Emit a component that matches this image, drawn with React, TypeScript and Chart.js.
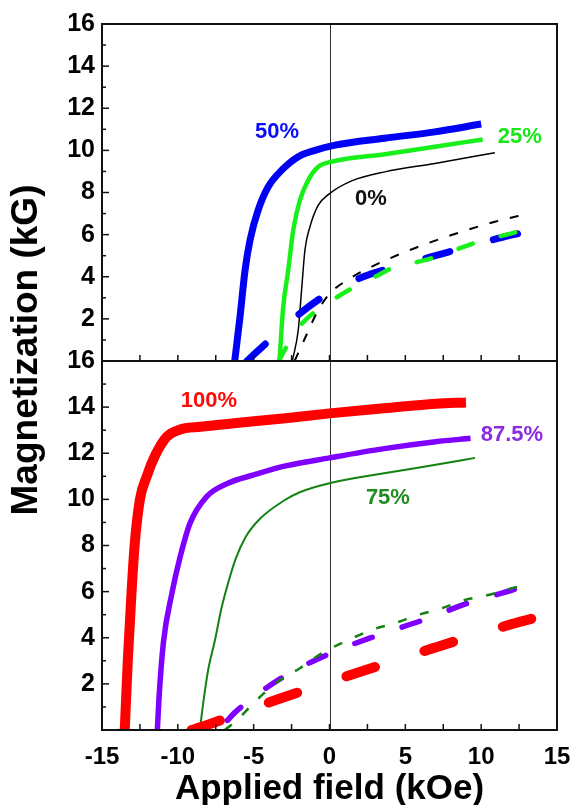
import React, { useEffect, useRef } from 'react';
import { Chart, registerables } from 'chart.js';

Chart.register(...registerables);

// ---------- data: applied field (kOe) and magnetization (kG) ----------
// top panel
const field0 = [-2.45, -2.06, -1.84, -1.62, -1.29, -0.74, -0.08, 1.46, 3.65, 6.95, 10.9];
const mag0 = [0, 1.47, 3.37, 5.27, 6.37, 7.4, 7.9, 8.55, 8.98, 9.38, 9.89];
const field25 = [-3.3, -3.05, -2.72, -2.39, -1.95, -1.4, -0.74, 0.14, 3.65, 6.95, 10.1];
const mag25 = [0, 2.58, 4.32, 6.22, 7.64, 8.59, 9.22, 9.46, 9.82, 10.17, 10.52];
const field50 = [-6.25, -5.9, -5.57, -5.24, -4.7, -4.04, -3.15, -2.06, -0.96, 0.36, 3.65, 6.95, 10.0];
const mag50 = [0, 2.1, 4.3, 5.74, 7.17, 8.27, 9.06, 9.7, 10.0, 10.25, 10.58, 10.88, 11.25];
const fieldD0 = [-2.3, -1.62, -0.74, 0.03, 1.35, 2.56, 5.3, 8.05, 10.9, 13.1];
const magD0 = [0, 1.08, 2.42, 3.21, 3.92, 4.4, 5.27, 5.98, 6.61, 7.0];
const fieldD25 = [-3.35, -2.17, -0.96, 0.36, 1.68, 3.0, 4.31, 5.5, 7.06, 8.27, 9.8, 11.1, 12.4, 13.4];
const magD25 = [0, 1.47, 2.34, 2.97, 3.53, 4.0, 4.47, 4.65, 4.95, 5.27, 5.66, 5.9, 6.14, 6.37];
const fieldD50 = [-5.45, -3.81, -1.95, -0.08, 2.23, 4.31, 6.73, 8.71, 11.1, 13.0];
const magD50 = [0, 1.08, 2.26, 3.21, 4.0, 4.47, 4.95, 5.35, 5.82, 6.14];

// bottom panel
const field75 = [-8.55, -8.3, -8.0, -7.55, -7.15, -6.8, -6.2, -5.5, -4.6, -3.0, -2.0, 0, 3.6, 7.0, 9.6];
const mag75 = [0, 1.3, 2.6, 3.9, 5.2, 6.1, 7.4, 8.4, 9.15, 9.95, 10.3, 10.7, 11.13, 11.5, 11.8];
const field87 = [-11.35, -11.25, -10.95, -10.4, -9.85, -9.2, -8.1, -6.7, -5.0, -2.9, 0, 3.6, 7.0, 9.3];
const mag87 = [0, 1.3, 3.8, 5.9, 7.5, 8.96, 10.12, 10.7, 11.06, 11.45, 11.8, 12.2, 12.5, 12.65];
const field100 = [-13.5, -13.3, -13.05, -12.85, -12.5, -12.05, -11.5, -10.75, -9.9, -8.5, -6.3, -2.9, 0, 3.6, 7.0, 9.0];
const mag100 = [0, 3.0, 6.0, 8.0, 10.0, 11.0, 11.9, 12.7, 13.02, 13.15, 13.3, 13.52, 13.73, 13.95, 14.15, 14.2];
const fieldD75 = [-6.9, -6.1, -4.8, -3.4, -1.95, -0.5, 1.24, 2.78, 4.3, 5.85, 7.4, 8.93, 10.47, 12.0, 12.9];
const magD75 = [0, 0.43, 1.3, 2.1, 2.68, 3.33, 3.9, 4.34, 4.63, 4.99, 5.28, 5.64, 5.85, 6.14, 6.3];
const fieldD87 = [-7.3, -6.12, -3.1, -0.03, 3.06, 6.18, 9.26, 12.2, 12.85];
const magD87 = [0, 0.83, 2.28, 3.3, 4.08, 4.77, 5.53, 6.1, 6.25];
const fieldD100 = [-9.1, -8.15, -3.4, 1.73, 6.84, 12.0, 13.3];
const magD100 = [0, 0.2, 1.33, 2.46, 3.55, 4.59, 4.82];

// axis ticks
const xTickValues = [-15, -10, -5, 0, 5, 10, 15];
const yTickValues = [2, 4, 6, 8, 10, 12, 14, 16];

// composition labels
const pctText = ['50%', '25%', '0%', '100%', '87.5%', '75%'];
const pctField = [-3.46, 12.55, 2.73, -7.95, 12.03, 3.85];
const pctMag = [10.87, 10.63, 7.69, 14.27, 12.79, 10.06];
const pctPanel = ['yTop', 'yTop', 'yTop', 'yBot', 'yBot', 'yBot'];
const pctColor = ['#0a0aff', '#19e619', '#111111', '#ff0a0a', '#8a2be2', '#228b22'];

const xTitle = 'Applied field (kOe)';
const yTitle = 'Magnetization (kG)';

const FONT = '"Liberation Sans", Arial, sans-serif';

const pts = (xs: number[], ys: number[]) => xs.map((x, i) => ({ x, y: ys[i] }));

const panelPlugin = {
  id: 'panels',
  beforeDatasetsDraw(chart: any) {
    const { ctx } = chart;
    const x = chart.scales.x;
    const yt = chart.scales.yTop;
    const yb = chart.scales.yBot;
    ctx.save();
    ctx.strokeStyle = '#333';
    ctx.lineWidth = 1;
    const px = Math.round(x.getPixelForValue(0)) + 0.5;
    ctx.beginPath();
    ctx.moveTo(px, yt.top);
    ctx.lineTo(px, yb.bottom);
    ctx.stroke();
    ctx.restore();
  },
  afterDatasetsDraw(chart: any) {
    const { ctx } = chart;
    const x = chart.scales.x;
    const panels = [chart.scales.yTop, chart.scales.yBot];
    ctx.save();
    ctx.strokeStyle = '#111';
    ctx.lineWidth = 1.5;
    for (const y of panels) {
      // minor / major ticks on left axis
      for (let v = 0; v <= 16; v++) {
        const py = y.getPixelForValue(v);
        const len = v % 2 === 0 ? 7 : 4;
        ctx.beginPath();
        ctx.moveTo(x.left, py);
        ctx.lineTo(x.left + len, py);
        ctx.stroke();
      }
      for (let v = -15; v <= 15; v += 2.5) {
        const px = x.getPixelForValue(v);
        ctx.beginPath();
        ctx.moveTo(px, y.bottom);
        ctx.lineTo(px, y.bottom - 6);
        ctx.stroke();
      }
    }
    ctx.lineWidth = 2;
    for (const y of panels) {
      ctx.strokeRect(x.left, y.top, x.right - x.left, y.bottom - y.top);
    }
    // composition labels
    ctx.textAlign = 'center';
    ctx.textBaseline = 'middle';
    ctx.font = `bold 22px ${FONT}`;
    pctText.forEach((t, i) => {
      const y = chart.scales[pctPanel[i]];
      ctx.fillStyle = pctColor[i];
      ctx.fillText(t, x.getPixelForValue(pctField[i]), y.getPixelForValue(pctMag[i]));
    });
    // axis titles
    ctx.fillStyle = '#000';
    ctx.font = `bold 35px ${FONT}`;
    ctx.textBaseline = 'alphabetic';
    ctx.fillText(xTitle, (x.left + x.right) / 2, 799);
    ctx.save();
    ctx.translate(37, 350);
    ctx.rotate(-Math.PI / 2);
    ctx.font = `bold 37px ${FONT}`;
    ctx.fillText(yTitle, 0, 0);
    ctx.restore();
    ctx.restore();
  },
};

const yAxis = (weight: number, stackWeight: number) => ({
  type: 'linear',
  position: 'left',
  stack: 'panels',
  stackWeight,
  weight,
  min: 0,
  max: 16,
  border: { display: false },
  grid: { display: false, drawTicks: false, tickLength: 0 },
  afterBuildTicks: (s: any) => {
    s.ticks = [0, ...yTickValues].map((v) => ({ value: v }));
  },
  ticks: {
    autoSkip: false,
    padding: 7,
    color: '#000',
    font: { size: 25, weight: 'bold', family: FONT },
    callback: (v: number) => (v === 0 ? '' : String(v)),
  },
  afterFit: (s: any) => {
    s.width = 102;
    s.paddingTop = 0;
    s.paddingBottom = 0;
  },
});

export default function App() {
  const ref = useRef<HTMLCanvasElement | null>(null);
  useEffect(() => {
    if (!ref.current) return;
    const line = (
      data: any[],
      yAxisID: string,
      color: string,
      width: number,
      dash: number[] = [],
      cap: CanvasLineCap = 'butt',
      dashOffset = 0
    ) => ({
      data,
      yAxisID,
      borderColor: color,
      backgroundColor: color,
      borderWidth: width,
      borderDash: dash,
      borderDashOffset: dashOffset,
      borderCapStyle: cap,
      borderJoinStyle: 'round',
      pointRadius: 0,
      fill: false,
      cubicInterpolationMode: 'monotone',
    });
    const chart = new Chart(ref.current, {
      type: 'line',
      data: {
        datasets: [
          line(pts(fieldD0, magD0), 'yTop', '#000000', 2, [9, 12]),
          line(pts(fieldD25, magD25), 'yTop', '#19f019', 4.5, [15, 29], 'round'),
          line(pts(fieldD50, magD50), 'yTop', '#0000f5', 7, [25, 45], 'round'),
          line(pts(field0, mag0), 'yTop', '#000000', 1.5),
          line(pts(field25, mag25), 'yTop', '#19f019', 4.5),
          line(pts(field50, mag50), 'yTop', '#0000f5', 7),
          line(pts(fieldD75, magD75), 'yBot', '#128212', 2.5, [9, 14]),
          line(pts(fieldD87, magD87), 'yBot', '#7f00ff', 5.5, [18.5, 31.5], 'round', 37),
          line(pts(fieldD100, magD100), 'yBot', '#ff0000', 10, [30, 52], 'round'),
          line(pts(field75, mag75), 'yBot', '#128212', 2),
          line(pts(field87, mag87), 'yBot', '#7f00ff', 5.5),
          line(pts(field100, mag100), 'yBot', '#ff0000', 10),
        ] as any,
      },
      options: {
        animation: false,
        responsive: false,
        events: [],
        layout: { padding: { left: 0, right: 13, top: 24, bottom: 0 } },
        plugins: { legend: { display: false }, tooltip: { enabled: false } },
        scales: {
          x: {
            type: 'linear',
            position: 'bottom',
            min: -15,
            max: 15,
            border: { display: false },
            grid: { display: false, drawTicks: false, tickLength: 0 },
            afterBuildTicks: (s: any) => {
              s.ticks = xTickValues.map((v) => ({ value: v }));
            },
            ticks: {
              autoSkip: false,
              maxRotation: 0,
              padding: 13,
              color: '#000',
              font: { size: 24, weight: 'bold', family: FONT },
            },
            afterFit: (s: any) => {
              s.height = 75;
              s.paddingLeft = 0;
              s.paddingRight = 0;
            },
          },
          yTop: yAxis(1, 337),
          yBot: yAxis(0, 369),
        } as any,
      },
      plugins: [panelPlugin],
    });
    return () => chart.destroy();
  }, []);
  return (
    <div style={{ position: 'absolute', left: 0, top: 0, width: 570, height: 805, background: '#fff' }}>
      <canvas ref={ref} width={570} height={805} />
    </div>
  );
}
